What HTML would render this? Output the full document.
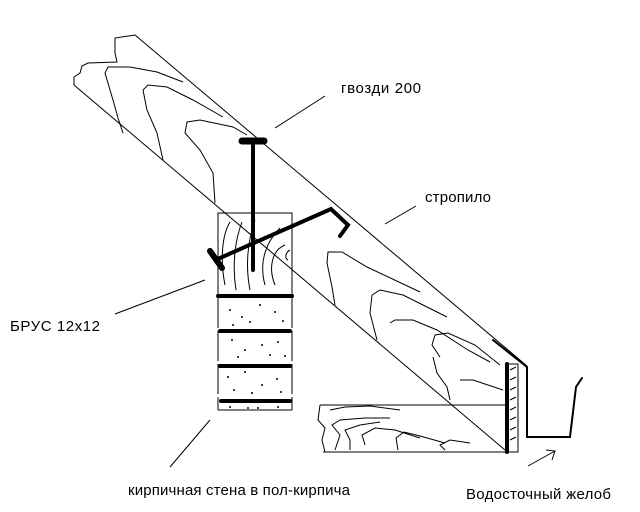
<!DOCTYPE html>
<html><head><meta charset="utf-8"><style>
html,body{margin:0;padding:0;background:#fff;width:640px;height:512px;overflow:hidden}
svg text{font-family:"Liberation Sans",sans-serif;font-size:15px;fill:#000}
</style></head><body>
<svg width="640" height="512" viewBox="0 0 640 512" xmlns="http://www.w3.org/2000/svg">
<g fill="none" stroke="#000" stroke-width="1">
<!-- rafter edges -->
<line x1="135" y1="35" x2="527" y2="366"/>
<line x1="74" y1="85" x2="505" y2="450"/>
<path d="M74,85 L74,77 L80,73 L82,66 L88,63 L117,62 L115,53 L115,38 L135,35"/>
<!-- rafter grain -->
<path d="M123,133 L118,118 L113,100 L105,73 L108,67 L130,67 L157,72 L183,82"/>
<path d="M163,160 L157,133 L147,110 L143,90 L148,85 L167,87 L193,100 L223,117"/>
<path d="M215,203 L213,173 L200,150 L185,133 L187,122 L200,120 L233,127 L247,135"/>
<path d="M335,305 L332,287 L327,263 L328,252 L342,252 L367,267 L420,292"/>
<path d="M377,340 L370,313 L372,295 L380,290 L403,295 L447,317"/>
<path d="M433,357 L437,373 L447,387 L450,400 M390,323 L395,320 L413,320 L437,330 L468,350 L490,362"/>
<path d="M460,380 L473,380 L503,390"/>
<path d="M440,357 L432,345 L435,335 L448,333 L475,345 L500,365"/>
<!-- block -->
<rect x="218" y="213" width="74" height="82"/>
<path d="M218,298 V410 M292,298 V410" stroke-dasharray="30,3"/>
<line x1="218" y1="410" x2="292" y2="410"/>
<path d="M225,285 C220,260 222,235 230,222 M236,290 C232,265 235,240 242,222 M250,290 C245,265 248,240 255,220 M265,285 C258,260 268,240 280,228 M275,285 C268,268 272,250 285,245 M288,260 C284,258 286,252 290,250"/>
<!-- board -->
<line x1="320" y1="405" x2="505" y2="405"/>
<line x1="323" y1="452" x2="518" y2="452"/>
<path d="M320,405 L318,420 L325,428 L322,440 L325,452"/>
<path d="M330,410 L345,407 L370,406 L400,410 M335,450 L340,435 L332,425 L340,420 L365,418 L390,418 M350,450 L350,440 L345,430 L360,425 L380,422 M365,445 L362,435 L375,428 L395,430 L420,438 M398,450 L396,438 L404,432 L420,436 L445,443 M445,450 L440,445 L450,440 L470,443"/>
<!-- fascia -->
<rect x="506" y="364" width="12" height="88"/>
<path d="M510,370 l6,-3 M510,380 l6,-3 M510,390 l6,-3 M510,400 l6,-3 M510,410 l6,-3 M510,420 l6,-3 M510,430 l6,-3 M510,440 l6,-3"/>
<!-- leaders -->
<line x1="275" y1="128" x2="325" y2="96"/>
<line x1="385" y1="224" x2="416" y2="206"/>
<line x1="115" y1="314" x2="205" y2="280"/>
<line x1="170" y1="467" x2="210" y2="420"/>
<line x1="528" y1="466" x2="555" y2="451"/>
<path d="M546,450 L555,451 L552,460"/>
</g>
<g stroke="#000" fill="none" stroke-linecap="round">
<line x1="507" y1="364" x2="507" y2="452" stroke-width="4"/>
<path d="M493,340 L527,367 L527,437 L570,437 L576,387 L582,378" stroke-width="2"/>
<line x1="218" y1="296" x2="292" y2="296" stroke-width="4"/>
<line x1="220" y1="331" x2="290" y2="331" stroke-width="4"/>
<line x1="220" y1="366" x2="290" y2="366" stroke-width="4"/>
<line x1="221" y1="401" x2="290" y2="401" stroke-width="4"/>
<line x1="253" y1="142" x2="253" y2="270" stroke-width="4"/>
<line x1="242" y1="141" x2="264" y2="141" stroke-width="7"/>
<path d="M220,258 L331,209 L348,225 L340,236" stroke-width="4"/>
<path d="M210,251 L222,268" stroke-width="6"/>
</g>
<g fill="#000">
<circle cx="230" cy="310" r="1"/><circle cx="242" cy="317" r="1"/><circle cx="260" cy="305" r="1"/><circle cx="275" cy="312" r="1"/><circle cx="250" cy="322" r="1"/><circle cx="283" cy="321" r="1"/><circle cx="233" cy="325" r="1"/>
<circle cx="232" cy="340" r="1"/><circle cx="245" cy="350" r="1"/><circle cx="262" cy="345" r="1"/><circle cx="278" cy="342" r="1"/><circle cx="270" cy="355" r="1"/><circle cx="238" cy="357" r="1"/><circle cx="285" cy="356" r="1"/>
<circle cx="228" cy="377" r="1"/><circle cx="245" cy="372" r="1"/><circle cx="262" cy="385" r="1"/><circle cx="277" cy="379" r="1"/><circle cx="252" cy="393" r="1"/><circle cx="281" cy="392" r="1"/><circle cx="234" cy="390" r="1"/>
<circle cx="230" cy="407" r="1"/><circle cx="248" cy="408" r="1"/><circle cx="258" cy="408" r="1"/><circle cx="278" cy="407" r="1"/>
</g>
<text x="341" y="93" textLength="80">гвозди 200</text>
<text x="425" y="202" textLength="66">стропило</text>
<text x="10" y="331" textLength="90">БРУС 12x12</text>
<text x="128" y="495" textLength="222">кирпичная стена в пол-кирпича</text>
<text x="466" y="499" textLength="145">Водосточный желоб</text>
</svg>
</body></html>
